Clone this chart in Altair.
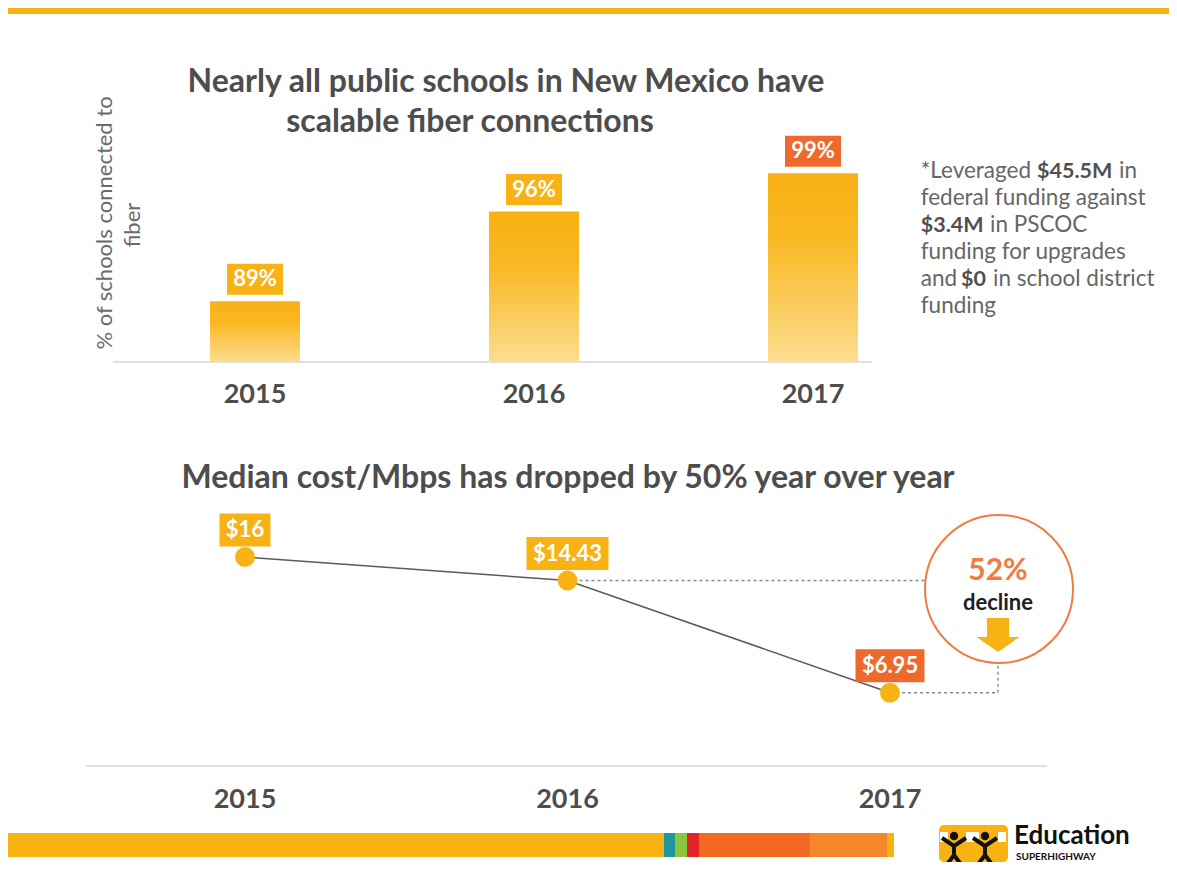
import altair as alt
import pandas as pd

# ---------------- data ----------------
years = [2015, 2016, 2017]
fiber_pct = [89, 96, 99]
fiber_labels = ["89%", "96%", "99%"]
cost_per_mbps = [16, 14.43, 6.95]
cost_labels = ["$16", "$14.43", "$6.95"]
highlight = [False, False, True]

title_top = ["Nearly all public schools in New Mexico have", "scalable fiber connections"]
title_bottom = "Median cost/Mbps has dropped by 50% year over year"
y_title = ["% of schools connected to", "fiber"]
note_lines = [
    [("*Leveraged", False), ("$45.5M", True), ("in", False)],
    [("federal funding against", False)],
    [("$3.4M", True), ("in PSCOC", False)],
    [("funding for upgrades", False)],
    [("and", False), ("$0", True), ("in school district", False)],
    [("funding", False)],
]
decline_pct = "52%"
decline_word = "decline"
brand = ["Education", "SUPERHIGHWAY"]

# ---------------- styles ----------------
FONT = "Lato"
YELLOW = "#F9B214"
RED = "#EE6A2C"
ORANGE = "#F07B3F"
TXT = "#4D4D4D"
NOTE = "#666666"
BASE = 84.25

ONE = pd.DataFrame({"_": [0]})


def box_width(label):
    w = 12
    for ch in label:
        if ch.isdigit() or ch == "$":
            w += 13
        elif ch == ".":
            w += 5
        elif ch == "%":
            w += 18
        else:
            w += 10
    return w


def rect_path(w, h):
    return f"M{-w/2},{-h/2}H{w/2}V{h/2}H{-w/2}Z"


def rect(x1, x2, y1, y2, color, **kw):
    return alt.Chart(ONE).mark_rect(color=color, **kw).encode(
        x=alt.value(x1), x2=alt.value(x2), y=alt.value(y1), y2=alt.value(y2))


def label(txt, x, y, **kw):
    base = dict(font=FONT, baseline="middle")
    base.update(kw)
    return alt.Chart(ONE).mark_text(text=txt, **base).encode(x=alt.value(x), y=alt.value(y))


# ---------------- top: bar chart ----------------
x_top = alt.Scale(domain=[2015, 2017], range=[247, 805], nice=False, zero=False, padding=0)
y_top = alt.Scale(domain=[BASE, 100], range=[354, 152.4], nice=False, zero=False)

df_top = pd.DataFrame({"year": years, "pct": fiber_pct, "label": fiber_labels, "hl": highlight})
df_top["box_color"] = [RED if h else YELLOW for h in highlight]
df_top["box_shape"] = [rect_path(box_width(l), 31) for l in fiber_labels]

XT = alt.X("year:Q", scale=x_top, axis=None)
YT = alt.Y("pct:Q", scale=y_top, axis=None)

gradient = {
    "gradient": "linear", "x1": 0, "y1": 0, "x2": 0, "y2": 1,
    "stops": [
        {"offset": 0, "color": "#F8B014"},
        {"offset": 0.35, "color": "#F9B823"},
        {"offset": 1, "color": "#FCDD8F"},
    ],
}

bars = alt.Chart(df_top).mark_bar(size=90, color=gradient, opacity=1).encode(
    x=XT, y=YT, y2=alt.datum(BASE))
top_axis = alt.Chart(df_top).mark_rule(color="#E3DFDB", strokeWidth=2).encode(
    x=alt.value(105), x2=alt.value(864), y=alt.value(354))
top_boxes = alt.Chart(df_top).mark_point(filled=True, opacity=1, size=4, strokeWidth=0, yOffset=-22).encode(
    x=XT, y=YT,
    shape=alt.Shape("box_shape:N", scale=None, legend=None),
    color=alt.Color("box_color:N", scale=None, legend=None))
top_box_text = alt.Chart(df_top).mark_text(font=FONT, fontSize=22, fontWeight="bold", color="white",
                                           baseline="middle", yOffset=-22).encode(x=XT, y=YT, text="label:N")
top_years = alt.Chart(df_top).mark_text(font=FONT, fontSize=27, fontWeight="bold", color=TXT,
                                        baseline="middle").encode(
    x=XT, y=alt.value(387), text=alt.Text("year:Q", format="d"))

top = alt.layer(top_axis, bars, top_boxes, top_box_text, top_years)

# ---------------- bottom: line chart ----------------
x_bot = alt.Scale(domain=[2015, 2017], range=[237, 882], nice=False, zero=False, padding=0)
y_bot = alt.Scale(domain=[0, 16], range=[789, 549], nice=False, zero=False)

df_bot = pd.DataFrame({"year": years, "cost": cost_per_mbps, "label": cost_labels, "hl": highlight})
df_bot["box_color"] = [RED if h else YELLOW for h in highlight]
df_bot["box_shape"] = [rect_path(box_width(l), 33) for l in cost_labels]

XB = alt.X("year:Q", scale=x_bot, axis=None)
YB = alt.Y("cost:Q", scale=y_bot, axis=None)

dash = dict(strokeDash=[3, 3], color="#8A8A8A", strokeWidth=1.4)
d1 = alt.Chart(df_bot).transform_filter("datum.year == 2016").mark_rule(**dash).encode(
    x=XB, x2=alt.value(917), y=YB)
d2 = alt.Chart(df_bot).transform_filter("datum.year == 2017").mark_rule(**dash).encode(
    x=XB, x2=alt.value(990), y=YB)
d3 = alt.Chart(df_bot).transform_filter("datum.year == 2017").mark_rule(**dash).encode(
    x=alt.value(990), y=YB, y2=alt.value(654))

line = alt.Chart(df_bot).mark_line(color="#5A5A5A", strokeWidth=1.5).encode(x=XB, y=YB)
pts = alt.Chart(df_bot).mark_circle(size=400, color=YELLOW, opacity=1).encode(x=XB, y=YB)
bot_boxes = alt.Chart(df_bot).mark_point(filled=True, opacity=1, size=4, strokeWidth=0, yOffset=-27).encode(
    x=XB, y=YB,
    shape=alt.Shape("box_shape:N", scale=None, legend=None),
    color=alt.Color("box_color:N", scale=None, legend=None))
bot_box_text = alt.Chart(df_bot).mark_text(font=FONT, fontSize=22, fontWeight="bold", color="white",
                                           baseline="middle", yOffset=-27).encode(x=XB, y=YB, text="label:N")
bot_years = alt.Chart(df_bot).mark_text(font=FONT, fontSize=27, fontWeight="bold", color=TXT,
                                        baseline="middle").encode(
    x=XB, y=alt.value(792), text=alt.Text("year:Q", format="d"))
bot_axis = alt.Chart(df_bot).mark_rule(color="#E3DFDB", strokeWidth=2).encode(
    x=alt.value(78), x2=alt.value(1039), y=alt.value(758))

bottom = alt.layer(bot_axis, d1, d2, d3, line, pts, bot_boxes, bot_box_text, bot_years)

# ---------------- decorations & text ----------------
deco = [
    rect(0, 1161, 0, 6, YELLOW),
    rect(0, 656, 825, 849, YELLOW),
    rect(656, 667, 825, 849, "#1E96A0"),
    rect(667, 679, 825, 849, "#8CC63F"),
    rect(679, 691, 825, 849, "#E1232A"),
    rect(691, 802, 825, 849, "#F26A21"),
    rect(802, 879, 825, 849, "#F5862B"),
    rect(879, 886, 825, 849, YELLOW),
]

texts = [
    label(title_top[0], 498, 74, fontSize=32, fontWeight="bold", color=TXT),
    label(title_top[1], 462, 114, fontSize=32, fontWeight="bold", color=TXT),
    label(title_bottom, 560, 470, fontSize=32, fontWeight="bold", color=TXT),
    label(y_title[0], 97, 215, fontSize=22, color="#6B6B6B", angle=270),
    label(y_title[1], 125, 217, fontSize=22, color="#6B6B6B", angle=270),
]

note_x = {
    (0, 0): 912.7, (0, 1): 1029, (0, 2): 1111,
    (2, 0): 912.7, (2, 1): 982,
    (4, 0): 912.7, (4, 1): 953, (4, 2): 985,
}
for i, segs in enumerate(note_lines):
    y = 170 + 27 * i
    for j, (txt, bold) in enumerate(segs):
        x = note_x.get((i, j), 912.7)
        texts.append(label(txt, x, y, baseline="alphabetic", align="left",
                           fontSize=21.5 if bold else 22.5,
                           fontWeight="bold" if bold else "normal",
                           color="#505050" if bold else NOTE))

# decline callout
circle = alt.Chart(ONE).mark_point(shape="circle", size=148 ** 2, fill="white", fillOpacity=1,
                                   stroke=ORANGE, strokeWidth=2, opacity=1).encode(
    x=alt.value(991), y=alt.value(581))
arrow = alt.Chart(ONE).mark_point(shape="M-11,-17H11V2H21.5L0,17L-21.5,2H-11Z", size=4, filled=True,
                                  color=YELLOW, opacity=1, strokeWidth=0).encode(
    x=alt.value(990), y=alt.value(627))
callout = [
    circle,
    label(decline_pct, 990, 563, fontSize=30, fontWeight="bold", color=ORANGE),
    label(decline_word, 990, 595, fontSize=22, fontWeight="bold", color="#1C1C28"),
    arrow,
]

# logo
figure_path = "M-12,-12L0,-4L12,-12M0,-4L0,5M-9,17L0,5L9,17"
logo = [
    rect(931, 1000, 817, 854, YELLOW, cornerRadius=5),
    rect(932, 940, 824, 834, "white"),
    rect(958, 971, 824, 834, "white"),
    rect(990, 998, 824, 834, "white"),
]
for fx in (946, 977):
    logo.append(alt.Chart(ONE).mark_point(shape="circle", size=70, filled=True, color="#111",
                                          opacity=1).encode(x=alt.value(fx), y=alt.value(828)))
    logo.append(alt.Chart(ONE).mark_point(shape=figure_path, size=4, filled=False, color="#111",
                                          strokeWidth=4, opacity=1).encode(
        x=alt.value(fx), y=alt.value(842)))
logo.append(label(brand[0], 1006, 828, align="left", fontSize=26, fontWeight="bold", color="#111"))
logo.append(label(brand[1], 1008, 848.5, align="left", fontSize=10, fontWeight="bold", color="#111"))

chart = alt.layer(top, bottom, *deco, *texts, *callout, *logo).resolve_scale(
    x="independent", y="independent"
).properties(
    width=1161, height=854, padding=0,
    autosize=alt.AutoSizeParams(type="none"),
    background="white",
).configure_view(stroke=None)

chart.save("out.html", embed_options={"renderer": "svg", "actions": False})
